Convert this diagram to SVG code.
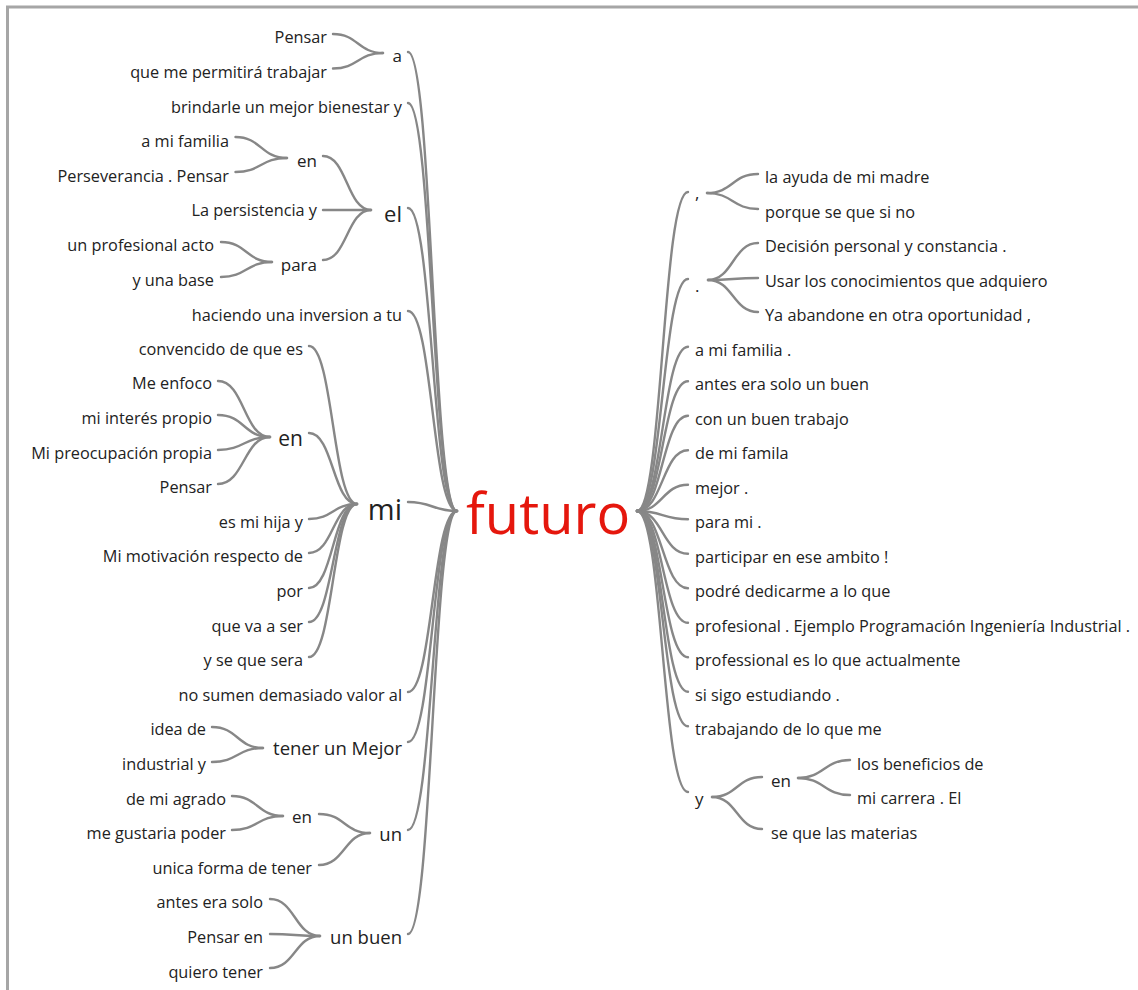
<svg xmlns="http://www.w3.org/2000/svg" width="1138" height="990" viewBox="0 0 1138 990">
<style>
text{font-family:"Open Sans","Noto Sans","Liberation Sans",sans-serif;fill:#222222;font-size:16.3px}
.l{text-anchor:end}
.r{text-anchor:start}
.m{font-size:17px}
.b{font-size:18.5px}
#connectors path{fill:none;stroke:#878787;stroke-width:2.4;stroke-linecap:round}
</style>
<rect width="1138" height="990" fill="#ffffff"/>
<path d="M7.5,990 V7 H1138" fill="none" stroke="#a6a6a6" stroke-width="3"/>
<g id="connectors">
<!-- left level 1 -->
<path d="M408,52 C432.5,52 432.5,511 457,511"/>
<path d="M408,103 C432.5,103 432.5,511 457,511"/>
<path d="M408,208 C432.5,208 432.5,511 457,511"/>
<path d="M408,311 C432.5,311 432.5,511 457,511"/>
<path d="M408,502 C432.5,502 432.5,511 457,511"/>
<path d="M408,692 C432.5,692 432.5,511 457,511"/>
<path d="M408,742 C432.5,742 432.5,511 457,511"/>
<path d="M408,830 C432.5,830 432.5,511 457,511"/>
<path d="M408,934 C432.5,934 432.5,511 457,511"/>
<!-- a -->
<path d="M333,34 C358,34 358,53 383,53"/>
<path d="M333,68.5 C358,68.5 358,53 383,53"/>
<!-- el -->
<path d="M323,156 C347,156 347,210 371,210"/>
<path d="M323,210 C347,210 347,210 371,210"/>
<path d="M323,260 C347,260 347,210 371,210"/>
<path d="M235.5,137 C261,137 261,158 287,158"/>
<path d="M235.5,172 C261,172 261,158 287,158"/>
<path d="M221,242 C246.5,242 246.5,262 272,262"/>
<path d="M221,277 C246.5,277 246.5,262 272,262"/>
<!-- mi -->
<path d="M309,346 C333,346 333,504 357,504"/>
<path d="M309,433 C333,433 333,504 357,504"/>
<path d="M309,519 C333,519 333,504 357,504"/>
<path d="M309,553 C333,553 333,504 357,504"/>
<path d="M309,588 C333,588 333,504 357,504"/>
<path d="M309,622 C333,622 333,504 357,504"/>
<path d="M309,657 C333,657 333,504 357,504"/>
<path d="M218,381 C244,381 244,437 270,437"/>
<path d="M218,415 C244,415 244,437 270,437"/>
<path d="M218,450 C244,450 244,437 270,437"/>
<path d="M218,484 C244,484 244,437 270,437"/>
<!-- tener un Mejor -->
<path d="M212,727 C237.5,727 237.5,748 263,748"/>
<path d="M212,762 C237.5,762 237.5,748 263,748"/>
<!-- un -->
<path d="M319,814 C344.5,814 344.5,833 370,833"/>
<path d="M319,865 C344.5,865 344.5,833 370,833"/>
<path d="M232,796 C257.5,796 257.5,816 283,816"/>
<path d="M232,830 C257.5,830 257.5,816 283,816"/>
<!-- un buen -->
<path d="M270,899 C295,899 295,936 320,936"/>
<path d="M270,934 C295,934 295,936 320,936"/>
<path d="M270,968 C295,968 295,936 320,936"/>
<!-- right level 1 -->
<path d="M637,511 C662.5,511 662.5,192 688,192"/>
<path d="M637,511 C662.5,511 662.5,279 688,279"/>
<path d="M637,511 C662.5,511 662.5,346.8 688,346.8"/>
<path d="M637,511 C662.5,511 662.5,381.3 688,381.3"/>
<path d="M637,511 C662.5,511 662.5,415.8 688,415.8"/>
<path d="M637,511 C662.5,511 662.5,450.3 688,450.3"/>
<path d="M637,511 C662.5,511 662.5,484.8 688,484.8"/>
<path d="M637,511 C662.5,511 662.5,519.3 688,519.3"/>
<path d="M637,511 C662.5,511 662.5,553.8 688,553.8"/>
<path d="M637,511 C662.5,511 662.5,588.3 688,588.3"/>
<path d="M637,511 C662.5,511 662.5,622.8 688,622.8"/>
<path d="M637,511 C662.5,511 662.5,657.3 688,657.3"/>
<path d="M637,511 C662.5,511 662.5,691.8 688,691.8"/>
<path d="M637,511 C662.5,511 662.5,726.3 688,726.3"/>
<path d="M637,511 C662.5,511 662.5,792 688,792"/>
<!-- , -->
<path d="M707,193 C732.5,193 732.5,174 758,174"/>
<path d="M707,193 C732.5,193 732.5,209 758,209"/>
<!-- . -->
<path d="M708,280 C733,280 733,243 758,243"/>
<path d="M708,280 C733,280 733,278 758,278"/>
<path d="M708,280 C733,280 733,312 758,312"/>
<!-- y -->
<path d="M712,797 C737,797 737,777 762,777"/>
<path d="M712,797 C737,797 737,829 762,829"/>
<path d="M798,778 C824,778 824,760 850,760"/>
<path d="M798,778 C824,778 824,795 850,795"/>
</g>
<g id="n-futuro"><text x="466" y="534" style="font-size:56px;fill:#e5170d">futuro</text></g>
<!-- left side -->
<g id="n-a"><text class="l m" x="402" y="61.5">a</text></g>
<g id="n-a-pensar"><text class="l" x="327" y="43.3">Pensar</text></g>
<g id="n-a-que"><text class="l" x="327" y="77.9">que me permitirá trabajar</text></g>
<g id="n-brindarle"><text class="l" x="402" y="112.5">brindarle un mejor bienestar y</text></g>
<g id="n-el"><text class="l" x="402" y="221.7" style="font-size:22px">el</text></g>
<g id="n-el-en"><text class="l m" x="317" y="166.7">en</text></g>
<g id="n-el-en-familia"><text class="l" x="229" y="147.1">a mi familia</text></g>
<g id="n-el-en-persev"><text class="l" x="229" y="181.7">Perseverancia . Pensar</text></g>
<g id="n-el-persist"><text class="l" x="317" y="216.3">La persistencia y</text></g>
<g id="n-el-para"><text class="l m" x="317" y="270.7">para</text></g>
<g id="n-el-para-prof"><text class="l" x="214" y="250.9">un profesional acto</text></g>
<g id="n-el-para-base"><text class="l" x="214" y="285.5">y una base</text></g>
<g id="n-haciendo"><text class="l" x="402" y="320.5">haciendo una inversion a tu</text></g>
<g id="n-mi"><text class="l" x="402" y="520" style="font-size:29px">mi</text></g>
<g id="n-mi-conv"><text class="l" x="303" y="354.7">convencido de que es</text></g>
<g id="n-mi-en"><text class="l" x="303" y="446" style="font-size:21px">en</text></g>
<g id="n-mi-en-1"><text class="l" x="212" y="389.3">Me enfoco</text></g>
<g id="n-mi-en-2"><text class="l" x="212" y="423.9">mi interés propio</text></g>
<g id="n-mi-en-3"><text class="l" x="212" y="458.5">Mi preocupación propia</text></g>
<g id="n-mi-en-4"><text class="l" x="212" y="493.1">Pensar</text></g>
<g id="n-mi-hija"><text class="l" x="303" y="527.7">es mi hija y</text></g>
<g id="n-mi-motiv"><text class="l" x="303" y="562.3">Mi motivación respecto de</text></g>
<g id="n-mi-por"><text class="l" x="303" y="596.9">por</text></g>
<g id="n-mi-va"><text class="l" x="303" y="631.5">que va a ser</text></g>
<g id="n-mi-sera"><text class="l" x="303" y="666.1">y se que sera</text></g>
<g id="n-nosumen"><text class="l" x="402" y="700.7">no sumen demasiado valor al</text></g>
<g id="n-tener"><text class="l b" x="402" y="755">tener un Mejor</text></g>
<g id="n-tener-idea"><text class="l" x="206" y="735.3">idea de</text></g>
<g id="n-tener-ind"><text class="l" x="206" y="769.9">industrial y</text></g>
<g id="n-un"><text class="l b" x="402" y="841">un</text></g>
<g id="n-un-en"><text class="l m" x="312" y="823">en</text></g>
<g id="n-un-en-agrado"><text class="l" x="226" y="804.5">de mi agrado</text></g>
<g id="n-un-en-gust"><text class="l" x="226" y="839.1">me gustaria poder</text></g>
<g id="n-un-unica"><text class="l" x="312" y="873.7">unica forma de tener</text></g>
<g id="n-unbuen"><text class="l b" x="402" y="944">un buen</text></g>
<g id="n-unbuen-1"><text class="l" x="263" y="908.3">antes era solo</text></g>
<g id="n-unbuen-2"><text class="l" x="263" y="942.9">Pensar en</text></g>
<g id="n-unbuen-3"><text class="l" x="263" y="977.5">quiero tener</text></g>
<!-- right side -->
<g id="n-comma"><text class="r m" x="695" y="199">,</text></g>
<g id="n-comma-1"><text class="r" x="765" y="183.3">la ayuda de mi madre</text></g>
<g id="n-comma-2"><text class="r" x="765" y="217.8">porque se que si no</text></g>
<g id="n-dot"><text class="r m" x="695" y="292">.</text></g>
<g id="n-dot-1"><text class="r" x="765" y="252.3">Decisión personal y constancia .</text></g>
<g id="n-dot-2"><text class="r" x="765" y="286.8">Usar los conocimientos que adquiero</text></g>
<g id="n-dot-3"><text class="r" x="765" y="321.3">Ya abandone en otra oportunidad ,</text></g>
<g id="n-r1"><text class="r" x="695" y="355.8">a mi familia .</text></g>
<g id="n-r2"><text class="r" x="695" y="390.3">antes era solo un buen</text></g>
<g id="n-r3"><text class="r" x="695" y="424.8">con un buen trabajo</text></g>
<g id="n-r4"><text class="r" x="695" y="459.3">de mi famila</text></g>
<g id="n-r5"><text class="r" x="695" y="493.8">mejor .</text></g>
<g id="n-r6"><text class="r" x="695" y="528.3">para mi .</text></g>
<g id="n-r7"><text class="r" x="695" y="562.8">participar en ese ambito !</text></g>
<g id="n-r8"><text class="r" x="695" y="597.3">podré dedicarme a lo que</text></g>
<g id="n-r9"><text class="r" x="695" y="631.8">profesional . Ejemplo Programación Ingeniería Industrial .</text></g>
<g id="n-r10"><text class="r" x="695" y="666.3">professional es lo que actualmente</text></g>
<g id="n-r11"><text class="r" x="695" y="700.8">si sigo estudiando .</text></g>
<g id="n-r12"><text class="r" x="695" y="735.3">trabajando de lo que me</text></g>
<g id="n-y"><text class="r m" x="695" y="805">y</text></g>
<g id="n-y-en"><text class="r m" x="771" y="786.5">en</text></g>
<g id="n-y-en-1"><text class="r" x="857" y="769.8">los beneficios de</text></g>
<g id="n-y-en-2"><text class="r" x="857" y="804.3">mi carrera . El</text></g>
<g id="n-y-se"><text class="r" x="771" y="838.8">se que las materias</text></g>
</svg>
